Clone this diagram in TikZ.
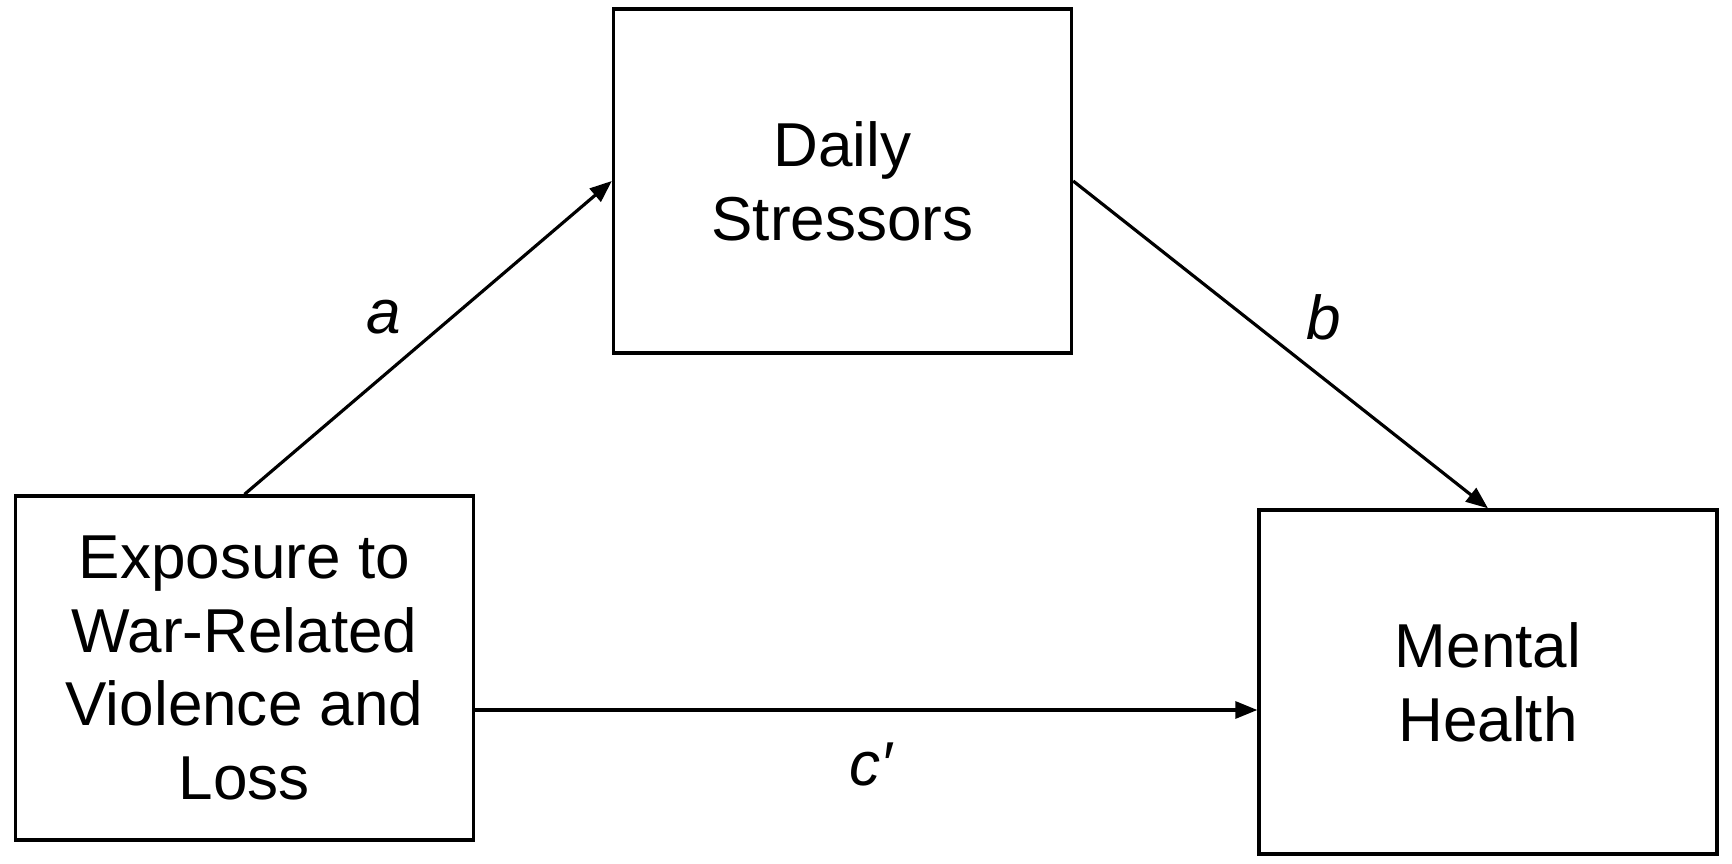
\documentclass[tikz,border=0pt]{standalone}
\usepackage{fontspec}
\setmainfont{Liberation Sans}
\usetikzlibrary{arrows.meta}

\begin{document}
\begin{tikzpicture}[every node/.style={align=center, font=\fontsize{35.3}{42}\selectfont},
  varbox/.style={draw, line width=1.9pt, minimum width=9.16cm, minimum height=6.88cm, inner sep=0pt},
  path/.style={-{Triangle[length=4.4mm, width=3.4mm]}, line width=1.8pt},
  coef/.style={font=\fontsize{35.3}{42}\selectfont\itshape}]
  % Fix the frame
  \useasboundingbox (0,0) rectangle (34.64,17.26);

  % Draw the variables
  \node[varbox] (expo) at (4.89,3.90) {Exposure to\\ War-Related\\ Violence and\\ Loss};
  \node[varbox] (daily) at (16.85,13.64) {Daily\\ Stressors};
  \node[varbox] (mental) at (29.76,3.62) {Mental\\ Health};

  % Connect the variables
  \coordinate (direct) at (0,3.06);
  \draw[path] (expo.north) -- (daily.west);
  \draw[path] (daily.east) -- (mental.north);
  \draw[path] (expo.east |- direct) -- (mental.west |- direct);

  % Add path labels
  \node[coef] (pa) at (7.67,10.92) {a};
  \node[coef] (pb) at (26.47,10.92) {b};
  \node[coef] (pc) at (17.41,1.97) {c′};
\end{tikzpicture}
\end{document}
